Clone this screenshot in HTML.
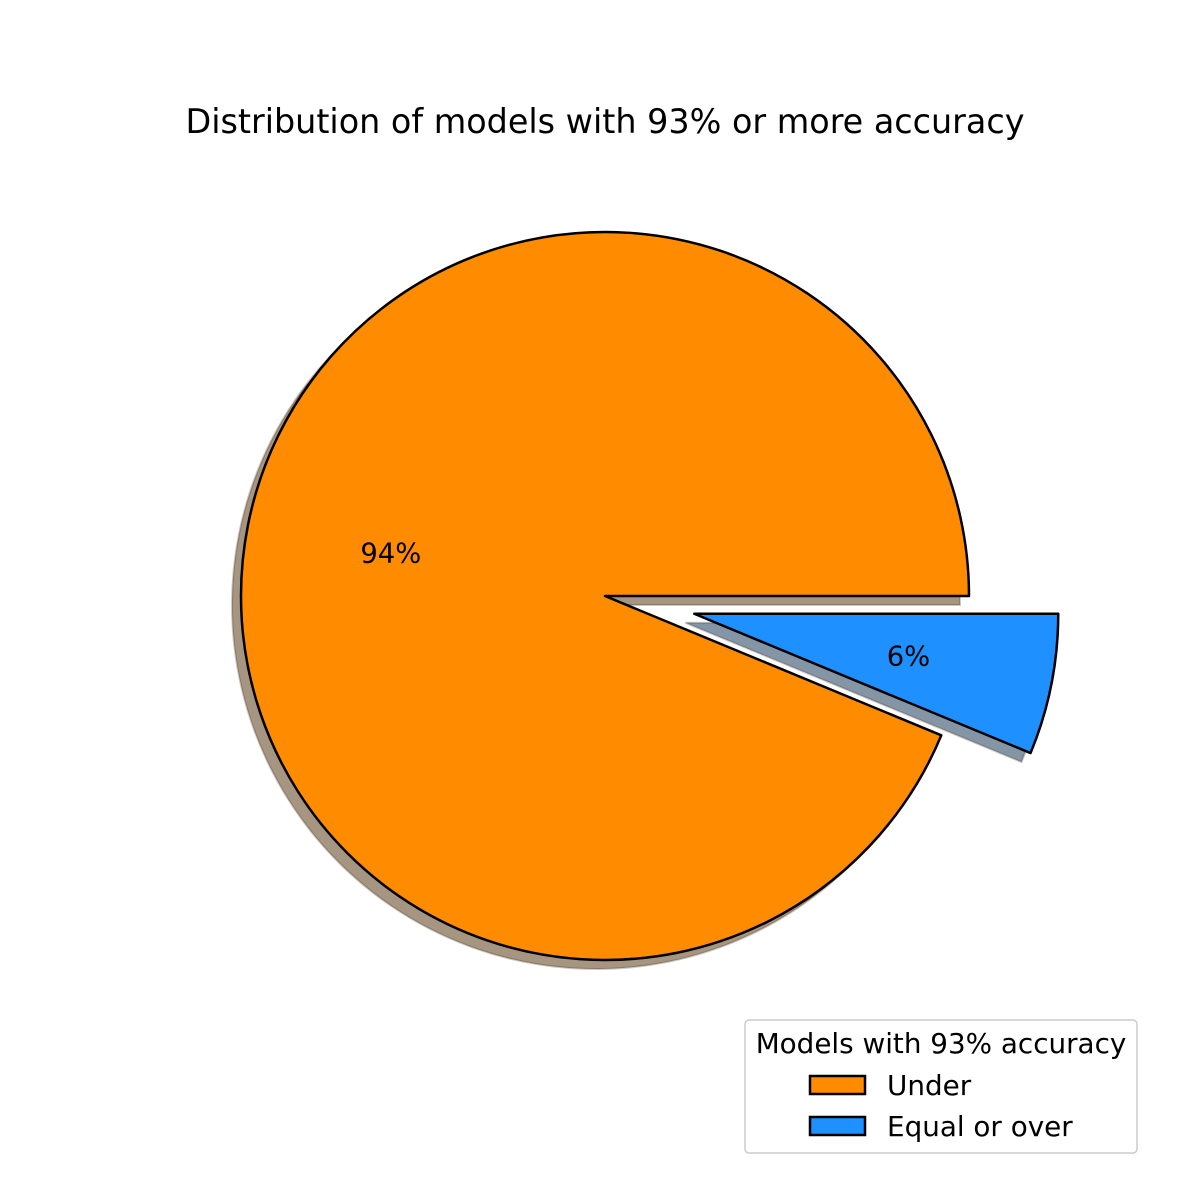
<!DOCTYPE html>
<html><head><meta charset="utf-8"><style>
body{margin:0;background:#fff}
svg{display:block;font-family:"DejaVu Sans","Liberation Sans",sans-serif}
</style></head><body>
<svg id="chart" width="1181" height="1181" viewBox="0 0 1181 1181">
<text x="605" y="133" font-size="33.4" text-anchor="middle">Distribution of models with 93% or more accuracy</text>
<g id="shadows"></g>
<g id="slices"></g>
<g id="labels"></g>
<g>
<rect x="745" y="1020" width="392" height="133" rx="4" fill="#fff" stroke="#ccc" stroke-width="1.5"/>
<text x="941" y="1053" font-size="27.8" text-anchor="middle">Models with 93% accuracy</text>
<g id="legend-entries"></g>
</g>
</svg>
<script>
const categories = ["Under", "Equal or over"];
const values = [15, 1];
const pctLabels = ["94%", "6%"];
const colors = ["#ff8c00", "#1e90ff"];
const explode = [0, 0.25];

const NS = "http://www.w3.org/2000/svg";
const cx = 605, cy = 596, R = 364, sh = 9;
const total = values.reduce((a, b) => a + b, 0);
function pt(x0, y0, r, a) { return [x0 + r * Math.cos(a), y0 - r * Math.sin(a)]; }
function wedge(x0, y0, a0, a1) {
  const p0 = pt(x0, y0, R, a0), p1 = pt(x0, y0, R, a1);
  const large = (a1 - a0) > Math.PI ? 1 : 0;
  return `M${x0},${y0} L${p0[0]},${p0[1]} A${R},${R} 0 ${large} 0 ${p1[0]},${p1[1]} Z`;
}
function shade(hex) {
  const n = parseInt(hex.slice(1), 16);
  const c = [(n >> 16) & 255, (n >> 8) & 255, n & 255].map(v => Math.round(v * 0.3 * 0.5 + 255 * 0.5));
  return `rgb(${c.join(',')})`;
}
let start = 0;
values.forEach((v, i) => {
  const sweep = v / total * 2 * Math.PI;
  const a0 = start, a1 = start + sweep, mid = (a0 + a1) / 2;
  const ox = cx + explode[i] * R * Math.cos(mid), oy = cy - explode[i] * R * Math.sin(mid);
  const s = document.createElementNS(NS, "path");
  s.setAttribute("d", wedge(ox - sh, oy + sh, a0, a1));
  s.setAttribute("fill", shade(colors[i]));
  s.setAttribute("stroke", "rgba(60,40,20,0.25)");
  s.setAttribute("stroke-width", "2");
  
  
  document.getElementById("shadows").appendChild(s);
  const p = document.createElementNS(NS, "path");
  p.setAttribute("d", wedge(ox, oy, a0, a1));
  p.setAttribute("fill", colors[i]);
  p.setAttribute("stroke", "#000");
  p.setAttribute("stroke-width", "2.5");
  p.setAttribute("stroke-linejoin", "round");
  
  
  document.getElementById("slices").appendChild(p);
  const lp = pt(ox, oy, R * 0.6, mid);
  const t = document.createElementNS(NS, "text");
  t.setAttribute("x", lp[0]); t.setAttribute("y", lp[1] + 9);
  t.setAttribute("font-size", "27.4"); t.setAttribute("text-anchor", "middle");
  t.textContent = pctLabels[i];
  
  
  document.getElementById("labels").appendChild(t);
  start = a1;
});
categories.forEach((c, i) => {
  const y = 1076 + i * 41;
  const r = document.createElementNS(NS, "rect");
  r.setAttribute("x", 810); r.setAttribute("y", y);
  r.setAttribute("width", 55); r.setAttribute("height", 18);
  r.setAttribute("fill", colors[i]); r.setAttribute("stroke", "#000"); r.setAttribute("stroke-width", "2.5");
  
  
  document.getElementById("legend-entries").appendChild(r);
  const t = document.createElementNS(NS, "text");
  t.setAttribute("x", 887); t.setAttribute("y", y + 19);
  t.setAttribute("font-size", "27.8");
  t.textContent = c;
  
  
  document.getElementById("legend-entries").appendChild(t);
});
</script>
</body></html>
